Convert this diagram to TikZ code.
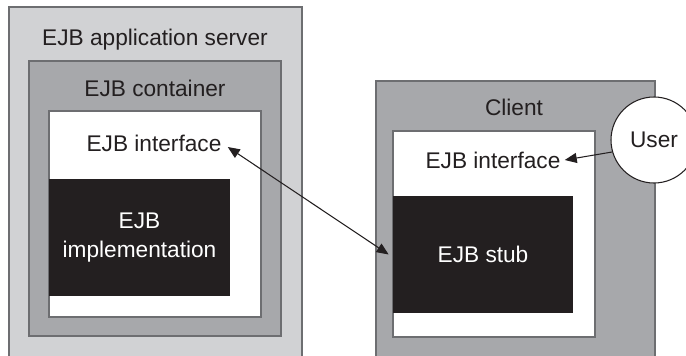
\documentclass[tikz,border=0pt]{standalone}
\usepackage{fontspec}
\setmainfont{Liberation Sans}
\usepackage{tikz}
\usetikzlibrary{calc, arrows.meta}

\definecolor{lightgrey}{HTML}{D1D2D4}
\definecolor{midgrey}{HTML}{A7A8AB}
\definecolor{edgegrey}{HTML}{6D6E71}
\definecolor{ink}{HTML}{231F20}

\tikzset{
	box/.style={draw=edgegrey, line width=0.6pt},
	label/.style={text=ink, font=\fontsize{12.9}{15}\selectfont, inner sep=0pt},
	blackbox/.style={fill=ink, text=white, font=\fontsize{12.9}{16}\selectfont, align=center, minimum width=3.6cm, minimum height=2.34cm, inner sep=0pt},
	link/.style={ink, line width=0.6pt, arrows={-Triangle[length=2.4mm,width=2mm]}},
	twolink/.style={ink, line width=0.6pt, arrows={Triangle[length=2.4mm,width=2mm]-Triangle[length=2.4mm,width=2mm]}}
}

\begin{document}
\begin{tikzpicture}
			\useasboundingbox (0,0) rectangle (13.72,-7.1);
			\draw[box, fill=lightgrey] (0.18,-0.14) rectangle (6.04,-7.3);
			\draw[box, fill=midgrey] (0.58,-1.22) rectangle (5.62,-6.72);
			\draw[box, fill=white] (0.98,-2.22) rectangle (5.22,-6.34);
			\draw[box, fill=midgrey] (7.52,-1.62) rectangle (13.1,-7.3);
			\draw[box, fill=white] (7.86,-2.62) rectangle (11.9,-6.74);
			\node[label] (server) at (3.1,-0.8) {EJB application server};
			\node[label] (container) at (3.1,-1.76) {EJB container};
			\node[label] (lif) at (3.08,-2.86) {EJB interface};
			\node[blackbox, minimum width=3.62cm] (impl) at (2.79,-4.75) {EJB\\implementation};
			\node[label] (client) at (10.28,-2.14) {Client};
			\node[label] (cif) at (9.86,-3.2) {EJB interface};
			\node[blackbox] (stub) at (9.66,-5.09) {EJB stub};
			\node[draw=ink, line width=0.6pt, fill=white, circle, minimum size=1.72cm, label, inner sep=0pt] (user) at (13.08,-2.8) {User};
			\draw[twolink] ([shift={(0.12,-0.08)}]lif.east) -- ([xshift=-0.08cm]stub.west);
			\draw[link] (user.196) -- ([xshift=0.08cm]cif.east);
		\end{tikzpicture}
\end{document}
